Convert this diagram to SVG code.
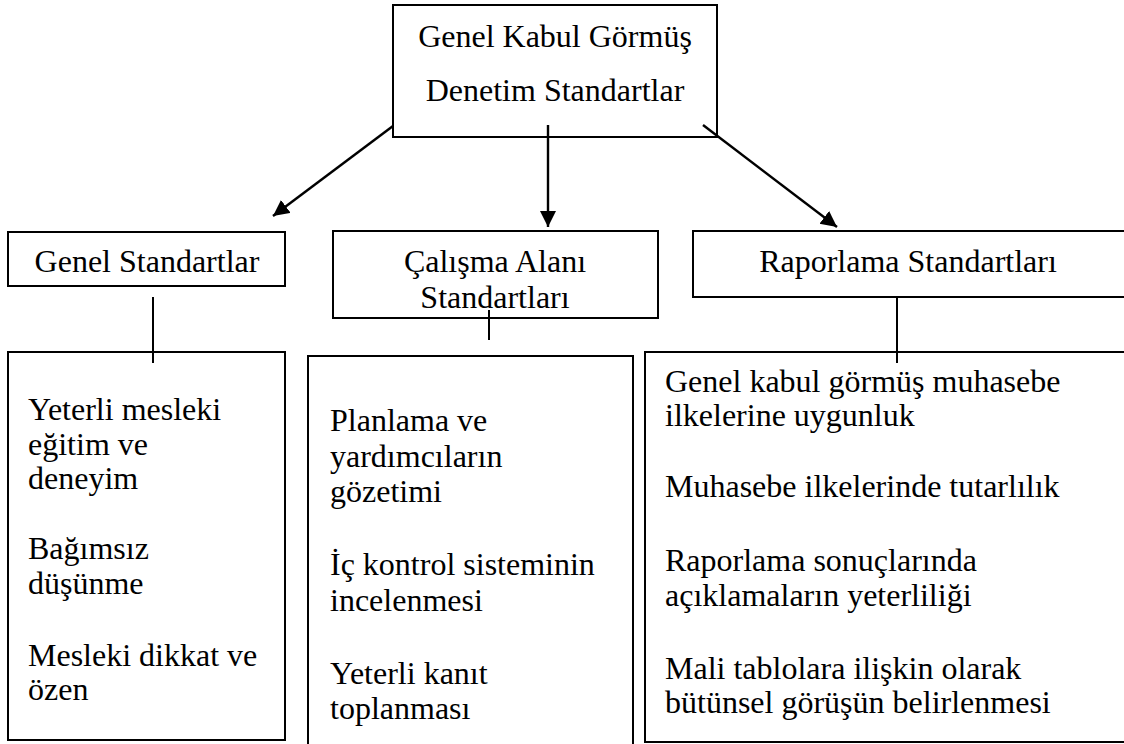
<svg xmlns="http://www.w3.org/2000/svg" width="1124" height="744" viewBox="0 0 1124 744">
  <style>
    text { font-family: "Liberation Serif", "Times New Roman", serif; font-size: 32px; fill: #000; }
    .mid { text-anchor: middle; }
    .box { fill: #fff; stroke: #000; stroke-width: 2; }
    .link { stroke: #000; stroke-width: 2; fill: none; }
    .arrow { stroke: #000; stroke-width: 2.4; fill: none; marker-end: url(#head); }
  </style>
  <defs>
    <marker id="head" markerUnits="userSpaceOnUse" markerWidth="18" markerHeight="18" refX="16" refY="8" orient="auto">
      <path d="M0,0 L16,8 L0,16 z" fill="#000"/>
    </marker>
  </defs>

  <rect width="1124" height="744" fill="#fff"/>

  <!-- root -->
  <g id="root">
    <rect class="box" x="393" y="5" width="324" height="132"/>
    <text class="mid" x="555" y="47">Genel Kabul Görmüş</text>
    <text class="mid" x="555" y="101">Denetim Standartlar</text>
  </g>

  <!-- category headers -->
  <g id="genel">
    <rect class="box" x="8" y="232" width="277" height="54"/>
    <text class="mid" x="147" y="272">Genel Standartlar</text>
  </g>
  <g id="calisma">
    <rect class="box" x="333" y="231" width="325" height="87"/>
    <text class="mid" x="495" y="272">Çalışma Alanı</text>
    <text class="mid" x="495" y="308">Standartları</text>
  </g>
  <g id="raporlama">
    <rect class="box" x="693" y="231" width="450" height="66"/>
    <text class="mid" x="908" y="272">Raporlama Standartları</text>
  </g>

  <!-- detail lists -->
  <g id="genel-items">
    <rect class="box" x="8" y="352" width="277" height="388"/>
    <text x="28" y="420">Yeterli mesleki</text>
    <text x="28" y="455">eğitim ve</text>
    <text x="28" y="489">deneyim</text>
    <text x="28" y="559">Bağımsız</text>
    <text x="28" y="594">düşünme</text>
    <text x="28" y="666">Mesleki dikkat ve</text>
    <text x="28" y="700">özen</text>
  </g>
  <g id="calisma-items">
    <rect class="box" x="308" y="356" width="325" height="400"/>
    <text x="330" y="431">Planlama ve</text>
    <text x="330" y="467">yardımcıların</text>
    <text x="330" y="502">gözetimi</text>
    <text x="330" y="575">İç kontrol sisteminin</text>
    <text x="330" y="611">incelenmesi</text>
    <text x="330" y="684">Yeterli kanıt</text>
    <text x="330" y="719">toplanması</text>
  </g>
  <g id="raporlama-items">
    <rect class="box" x="645" y="352" width="500" height="390"/>
    <text x="665" y="392">Genel kabul görmüş muhasebe</text>
    <text x="665" y="426">ilkelerine uygunluk</text>
    <text x="665" y="497">Muhasebe ilkelerinde tutarlılık</text>
    <text x="665" y="571">Raporlama sonuçlarında</text>
    <text x="665" y="606">açıklamaların yeterliliği</text>
    <text x="665" y="679">Mali tablolara ilişkin olarak</text>
    <text x="665" y="713">bütünsel görüşün belirlenmesi</text>
  </g>

  <!-- connectors -->
  <g id="connectors">
    <line class="arrow" x1="393" y1="126" x2="273" y2="216"/>
    <line class="arrow" x1="548" y1="125" x2="548" y2="227"/>
    <line class="arrow" x1="703" y1="125" x2="837" y2="227"/>
    <line class="link" x1="153" y1="297" x2="153" y2="363"/>
    <line class="link" x1="489" y1="310" x2="489" y2="340"/>
    <line class="link" x1="897" y1="297" x2="897" y2="363"/>
  </g>
</svg>
